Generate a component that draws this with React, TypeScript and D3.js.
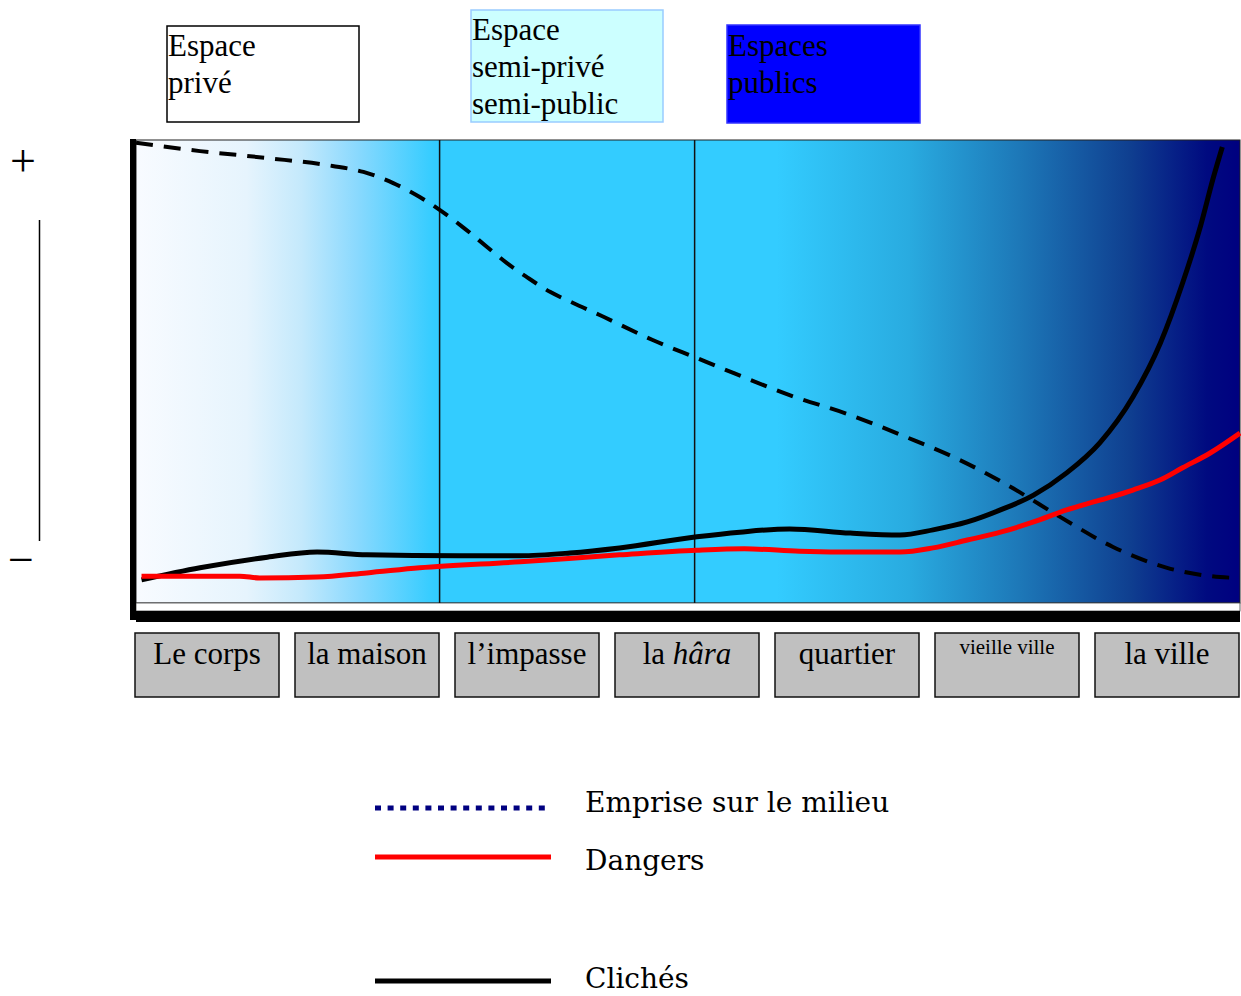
import React from "react";
import * as d3 from "d3";

// categories along the bottom
const categories = ["Le corps", "la maison", "l’impasse", "la hâra", "quartier", "vieille ville", "la ville"];

// zones above the chart
const zoneLabels = [["Espace", "privé"], ["Espace", "semi-privé", "semi-public"], ["Espaces", "publics"]];

// vertical separators (position in % of plot width)
const separators = [27.5, 50.6];

// y axis markers
const yMarks = ["+", "−"];

// series: position along the plot (%) and level (%)
const emprisePos = [0, 5.8, 11.9, 17.8, 20.6, 23.3, 25.7, 27.5, 29.6, 31.8, 33.6, 35.4, 37.5, 39.6, 42, 46.8, 50.8, 54.1, 59.2, 64.7, 69.7, 74.6, 79.2, 83.7, 88.5, 93.4, 98.2, 100];
const empriseVal = [99.4, 97.6, 96.1, 94.4, 93.1, 90.7, 87.7, 84.9, 81.2, 76.9, 73.4, 70.4, 67.2, 64.8, 62.2, 56.8, 52.9, 49.7, 44.9, 40.6, 35.9, 30.9, 25.1, 18.6, 12.1, 7.6, 5.6, 5.4];

const dangersPos = [0.5, 9.4, 11.2, 16.4, 20.9, 25.7, 34.8, 43.8, 50.8, 55.1, 60.1, 65.6, 69.2, 72.2, 75.3, 78.3, 81.3, 84.3, 87.3, 90.3, 92.8, 94.8, 97.3, 100];
const dangersVal = [5.8, 5.8, 5.4, 5.6, 6.5, 7.6, 8.9, 10.4, 11.4, 11.7, 11.2, 11.0, 11.0, 11.9, 13.6, 15.3, 17.5, 20.1, 22.2, 24.4, 26.6, 29.2, 32.4, 36.7];

const clichesPos = [0.5, 5.8, 11.9, 16.4, 20.9, 29.3, 34.8, 39.3, 43.8, 50.8, 54.7, 59.2, 64.7, 69.2, 72.2, 75.3, 78.3, 81.3, 84.3, 87.3, 90.3, 92.8, 94.8, 96.4, 97.6, 98.4];
const clichesVal = [5.0, 7.6, 9.9, 11.0, 10.4, 10.2, 10.2, 10.8, 11.9, 14.3, 15.3, 16.0, 15.1, 14.7, 15.8, 17.5, 20.1, 23.3, 28.1, 34.6, 44.5, 56.2, 69.1, 81.2, 92.0, 98.5];

const legendLabels = ["Emprise sur le milieu", "Dangers", "Clichés"];

const serif = "'Liberation Serif', 'Times New Roman', serif";

export default function App() {
  const left = 136, right = 1240, top = 140, bottom = 603;
  const x = d3.scaleLinear().domain([0, 100]).range([left, right]);
  const y = d3.scaleLinear().domain([0, 100]).range([bottom, top]);
  const band = d3.scaleBand().domain(categories).range([135, 1239]).paddingInner(0.1);

  const line = d3
    .line<[number, number]>()
    .x((d) => x(d[0]))
    .y((d) => y(d[1]))
    .curve(d3.curveMonotoneX);

  const zip = (a: number[], b: number[]) => a.map((v, i) => [v, b[i]] as [number, number]);

  // zone boxes (layout)
  const zoneBoxes = [
    { x: 167, y: 26, w: 192, h: 96, fill: "#ffffff", stroke: "#000000", base: 56 },
    { x: 471, y: 10, w: 192, h: 112, fill: "#ccffff", stroke: "#99ccff", base: 40 },
    { x: 727, y: 25, w: 193, h: 98, fill: "#0000ff", stroke: "#3333ff", base: 56 },
  ];

  const legendY = [808, 857, 981];

  return (
    <svg width={1241} height={996} style={{ position: "absolute", left: 0, top: 0 }}>
      <defs>
        <linearGradient id="bg" x1="0" x2="1" y1="0" y2="0">
          <stop offset="0" stopColor="#f8fbff" />
          <stop offset="0.1" stopColor="#e6f4fd" />
          <stop offset="0.15" stopColor="#c4e9fc" />
          <stop offset="0.2" stopColor="#8ad9fe" />
          <stop offset="0.27" stopColor="#33ccff" />
          <stop offset="0.58" stopColor="#33ccff" />
          <stop offset="0.7" stopColor="#29abe0" />
          <stop offset="0.8" stopColor="#1d78b8" />
          <stop offset="0.9" stopColor="#0f3f90" />
          <stop offset="0.97" stopColor="#000a80" />
          <stop offset="1" stopColor="#000080" />
        </linearGradient>
      </defs>

      {/* zone boxes */}
      {zoneBoxes.map((b, i) => (
        <g key={i}>
          <rect x={b.x} y={b.y} width={b.w} height={b.h} fill={b.fill} stroke={b.stroke} strokeWidth={1.5} />
          {zoneLabels[i].map((t, j) => (
            <text key={j} x={b.x + 1} y={b.base + j * 37} fontFamily={serif} fontSize={31} fill="#000">
              {t}
            </text>
          ))}
        </g>
      ))}

      {/* y markers */}
      <text x={23} y={176} textAnchor="middle" fontFamily={serif} fontSize={46}>{yMarks[0]}</text>
      <text x={21} y={575} textAnchor="middle" fontFamily={serif} fontSize={46}>{yMarks[1]}</text>
      <line x1={39.5} x2={39.5} y1={220} y2={541} stroke="#000" strokeWidth={1.5} />

      {/* plot background */}
      <rect x={left} y={top} width={right - left} height={bottom - top} fill="url(#bg)" stroke="#222" strokeWidth={1} />
      <rect x={left} y={bottom} width={right - left} height={8} fill="#fff" stroke="#444" strokeWidth={0.8} />
      <rect x={130} y={139} width={6} height={481} fill="#000" />
      <rect x={136} y={611} width={right - 136} height={11} fill="#000" />

      {separators.map((s, i) => (
        <line key={i} x1={x(s)} x2={x(s)} y1={top} y2={bottom} stroke="#111" strokeWidth={1.5} />
      ))}

      {/* series */}
      <path d={line(zip(emprisePos, empriseVal)) || ""} fill="none" stroke="#000" strokeWidth={4} strokeDasharray="17 11" />
      <path d={line(zip(clichesPos, clichesVal)) || ""} fill="none" stroke="#000" strokeWidth={5} />
      <path d={line(zip(dangersPos, dangersVal)) || ""} fill="none" stroke="#ff0000" strokeWidth={5} />

      {/* category boxes */}
      {categories.map((c) => {
        const bx = band(c) || 0;
        const small = c === "vieille ville";
        return (
          <g key={c}>
            <rect x={bx} y={633} width={band.bandwidth()} height={64} fill="#c0c0c0" stroke="#111" strokeWidth={1.5} />
            <text
              x={bx + band.bandwidth() / 2}
              y={small ? 654 : 664}
              textAnchor="middle"
              fontFamily={serif}
              fontSize={small ? 21 : 31}
            >
              {c === "la hâra" ? (
                <>
                  la <tspan fontStyle="italic">hâra</tspan>
                </>
              ) : (
                c
              )}
            </text>
          </g>
        );
      })}

      {/* legend */}
      <line x1={375} x2={551} y1={legendY[0]} y2={legendY[0]} stroke="#000080" strokeWidth={5} strokeDasharray="6 6.6" />
      <line x1={375} x2={551} y1={legendY[1]} y2={legendY[1]} stroke="#ff0000" strokeWidth={5} />
      <line x1={375} x2={551} y1={legendY[2]} y2={legendY[2]} stroke="#000" strokeWidth={5} />
      {legendLabels.map((t, i) => (
        <text key={t} x={585} y={legendY[i] + [4, 13, 7][i]} fontFamily="'DejaVu Serif', serif" fontSize={28}>
          {t}
        </text>
      ))}
    </svg>
  );
}
